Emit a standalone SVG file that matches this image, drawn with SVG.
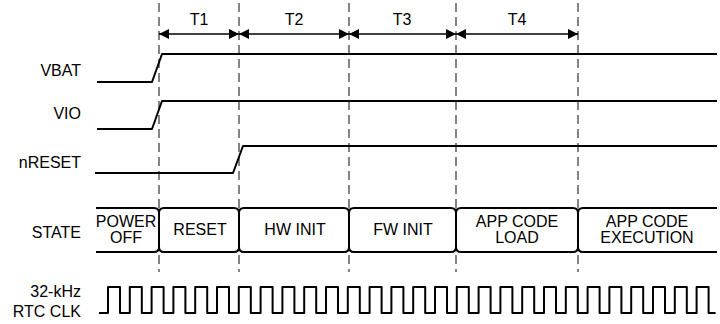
<svg xmlns="http://www.w3.org/2000/svg" width="720" height="324" viewBox="0 0 720 324">
<defs>
<marker id="ah" viewBox="0 0 10 10" refX="10" refY="5" markerWidth="10" markerHeight="10" markerUnits="userSpaceOnUse" orient="auto-start-reverse">
<path d="M0,0 L10,5 L0,10 Z" fill="#000"/>
</marker>
<style>
text{font-family:"Liberation Sans",Arial,sans-serif;font-size:16px;fill:#000}
.lbl{text-anchor:end}
.c{text-anchor:middle}
.sig{fill:none;stroke:#000;stroke-width:2;stroke-linejoin:round}
.dash{stroke:#333;stroke-width:1.2;stroke-dasharray:9,5;fill:none}
.dim{stroke:#000;stroke-width:1.3;fill:none}
.bus{fill:none;stroke:#000;stroke-width:2}
</style>
</defs>
<rect width="720" height="324" fill="#fff"/>
<g id="gridlines">
<line class="dash" x1="159" y1="3" x2="159" y2="272"/>
<line class="dash" x1="239" y1="3" x2="239" y2="272"/>
<line class="dash" x1="349" y1="3" x2="349" y2="272"/>
<line class="dash" x1="456" y1="3" x2="456" y2="272"/>
<line class="dash" x1="578" y1="3" x2="578" y2="272"/>
</g>
<g id="connectors">
<line class="dim" x1="159" y1="34" x2="239" y2="34" marker-start="url(#ah)" marker-end="url(#ah)"/>
<line class="dim" x1="239" y1="34" x2="349" y2="34" marker-start="url(#ah)" marker-end="url(#ah)"/>
<line class="dim" x1="349" y1="34" x2="456" y2="34" marker-start="url(#ah)" marker-end="url(#ah)"/>
<line class="dim" x1="456" y1="34" x2="578" y2="34" marker-start="url(#ah)" marker-end="url(#ah)"/>
</g>
<g id="timing-labels">
<text class="c" x="199" y="25">T1</text>
<text class="c" x="294" y="25">T2</text>
<text class="c" x="402" y="25">T3</text>
<text class="c" x="517" y="25">T4</text>
</g>
<g id="vbat">
<text class="lbl" x="81" y="76">VBAT</text>
<path class="sig" d="M97,82 H152 L162,54 H717"/>
</g>
<g id="vio">
<text class="lbl" x="81" y="119">VIO</text>
<path class="sig" d="M97,129 H152 L162,101 H717"/>
</g>
<g id="nreset">
<text class="lbl" x="81" y="168">nRESET</text>
<path class="sig" d="M95,173 H233 L243,146 H717"/>
</g>
<g id="state">
<text class="lbl" x="81" y="238">STATE</text>
<g id="state-power-off">
<path class="bus" d="M96,208 H154 Q159,208 159,213 V247 Q159,252 154,252 H96"/>
<text class="c" x="126" y="227">POWER</text>
<text class="c" x="126" y="243">OFF</text>
</g>
<g id="state-reset">
<path class="bus" d="M164,208 H234 Q239,208 239,213 V247 Q239,252 234,252 H164 Q159,252 159,247 V213 Q159,208 164,208 Z"/>
<text class="c" x="200" y="235">RESET</text>
</g>
<g id="state-hw-init">
<path class="bus" d="M244,208 H344 Q349,208 349,213 V247 Q349,252 344,252 H244 Q239,252 239,247 V213 Q239,208 244,208 Z"/>
<text class="c" x="295" y="235">HW INIT</text>
</g>
<g id="state-fw-init">
<path class="bus" d="M354,208 H451 Q456,208 456,213 V247 Q456,252 451,252 H354 Q349,252 349,247 V213 Q349,208 354,208 Z"/>
<text class="c" x="403" y="235">FW INIT</text>
</g>
<g id="state-app-load">
<path class="bus" d="M461,208 H573 Q578,208 578,213 V247 Q578,252 573,252 H461 Q456,252 456,247 V213 Q456,208 461,208 Z"/>
<text class="c" x="517" y="227">APP CODE</text>
<text class="c" x="517" y="243">LOAD</text>
</g>
<g id="state-app-exec">
<path class="bus" d="M717,208 H583 Q578,208 578,213 V247 Q578,252 583,252 H717"/>
<text class="c" x="647" y="227">APP CODE</text>
<text class="c" x="647" y="243">EXECUTION</text>
</g>
</g>
<g id="rtc-clk">
<text class="lbl" x="81" y="297">32-kHz</text>
<text class="lbl" x="81" y="317">RTC CLK</text>
<path class="sig" d="M99,313 H108 v-26h12v26h9.8v-26h12v26h9.8v-26h12v26h9.8v-26h12v26h9.8 v-26h12v26h9.8v-26h12v26h9.8v-26h12v26h9.8v-26h12v26h9.8 v-26h12v26h9.8v-26h12v26h9.8v-26h12v26h9.8v-26h12v26h9.8 v-26h12v26h9.8v-26h12v26h9.8v-26h12v26h9.8v-26h12v26h9.8 v-26h12v26h9.8v-26h12v26h9.8v-26h12v26h9.8v-26h12v26h9.8 v-26h12v26h9.8v-26h12v26h9.8v-26h12v26h9.8v-26h12v26h9.8 v-26h12v26h9.8v-26h12v26h9.8v-26h12v26h9.8v-26h12v26h7"/>
</g>
</svg>
